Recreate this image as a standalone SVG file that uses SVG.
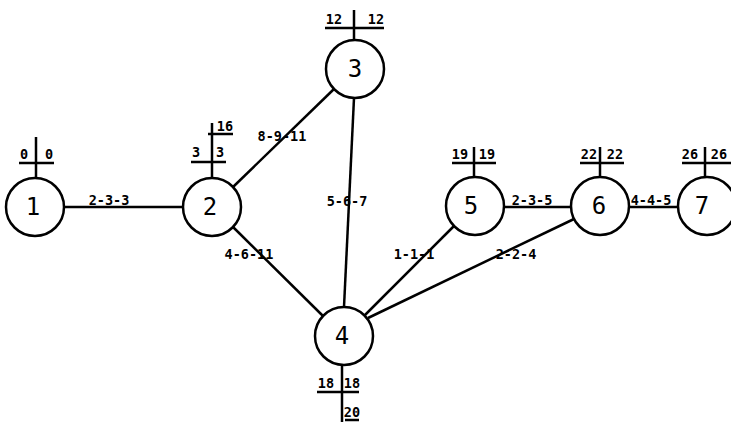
<svg xmlns="http://www.w3.org/2000/svg" width="731" height="422" viewBox="0 0 731 422">
<style>
.bg{fill:#fff}
circle{fill:#fff;stroke:#000;stroke-width:2.5}
line{stroke:#000;stroke-width:2.5;stroke-linecap:butt}
.n{font-family:"DejaVu Sans Mono","Liberation Mono",monospace;font-size:24px;text-anchor:middle;fill:#000}
.l{font-family:"DejaVu Sans Mono","Liberation Mono",monospace;font-size:13.5px;font-weight:bold;text-anchor:middle;fill:#000}
.t{font-family:"DejaVu Sans Mono","Liberation Mono",monospace;font-size:13.5px;font-weight:bold;text-anchor:middle;fill:#000}
</style>
<rect class="bg" x="0" y="0" width="731" height="422"/>
<g id="connectors">
  <line x1="64" y1="207" x2="183" y2="207"/>
  <line x1="233" y1="187" x2="334" y2="89"/>
  <line x1="354" y1="98" x2="344" y2="307"/>
  <line x1="233" y1="227" x2="323" y2="316"/>
  <line x1="365" y1="315" x2="454" y2="226"/>
  <line x1="368" y1="318" x2="574" y2="219"/>
  <line x1="504" y1="207" x2="571" y2="207"/>
  <line x1="629" y1="207" x2="678" y2="207"/>
  <text class="l" x="109" y="205">2-3-3</text>
  <text class="l" x="282" y="141">8-9-11</text>
  <text class="l" x="347" y="206">5-6-7</text>
  <text class="l" x="249" y="259">4-6-11</text>
  <text class="l" x="414" y="259">1-1-1</text>
  <text class="l" x="516" y="259">2-2-4</text>
  <text class="l" x="532" y="205">2-3-5</text>
  <text class="l" x="651" y="205">4-4-5</text>
</g>
<g id="node1">
  <line x1="36" y1="137" x2="36" y2="178"/>
  <line x1="19" y1="163" x2="54" y2="163"/>
  <text class="t" x="24" y="159">0</text>
  <text class="t" x="49" y="159">0</text>
  <circle cx="35" cy="207" r="29"/>
  <text class="n" x="33" y="215">1</text>
</g>
<g id="node2">
  <line x1="212" y1="123" x2="212" y2="178"/>
  <line x1="208" y1="134" x2="233" y2="134"/>
  <line x1="191" y1="162" x2="226" y2="162"/>
  <text class="t" x="225" y="131">16</text>
  <text class="t" x="196" y="157">3</text>
  <text class="t" x="220" y="157">3</text>
  <circle cx="212" cy="207" r="29"/>
  <text class="n" x="210" y="215">2</text>
</g>
<g id="node3">
  <line x1="354" y1="10" x2="354" y2="40"/>
  <line x1="325" y1="28" x2="384" y2="28"/>
  <text class="t" x="334" y="24">12</text>
  <text class="t" x="376" y="24">12</text>
  <circle cx="355" cy="69" r="29"/>
  <text class="n" x="355" y="77">3</text>
</g>
<g id="node4">
  <line x1="342" y1="365" x2="342" y2="422"/>
  <line x1="317" y1="392" x2="359" y2="392"/>
  <line x1="345" y1="420" x2="359" y2="420"/>
  <text class="t" x="326" y="388">18</text>
  <text class="t" x="352" y="388">18</text>
  <text class="t" x="352" y="417">20</text>
  <circle cx="344" cy="336" r="29"/>
  <text class="n" x="342" y="344">4</text>
</g>
<g id="node5">
  <line x1="474" y1="147" x2="474" y2="177"/>
  <line x1="452" y1="163" x2="496" y2="163"/>
  <text class="t" x="460" y="159">19</text>
  <text class="t" x="487" y="159">19</text>
  <circle cx="475" cy="206" r="29"/>
  <text class="n" x="471" y="214">5</text>
</g>
<g id="node6">
  <line x1="600" y1="147" x2="600" y2="177"/>
  <line x1="580" y1="163" x2="624" y2="163"/>
  <text class="t" x="589" y="159">22</text>
  <text class="t" x="615" y="159">22</text>
  <circle cx="600" cy="206" r="29"/>
  <text class="n" x="599" y="214">6</text>
</g>
<g id="node7">
  <line x1="705" y1="147" x2="705" y2="177"/>
  <line x1="682" y1="163" x2="731" y2="163"/>
  <text class="t" x="690" y="159">26</text>
  <text class="t" x="719" y="159">26</text>
  <circle cx="707" cy="206" r="29"/>
  <text class="n" x="702" y="214">7</text>
</g>
</svg>
